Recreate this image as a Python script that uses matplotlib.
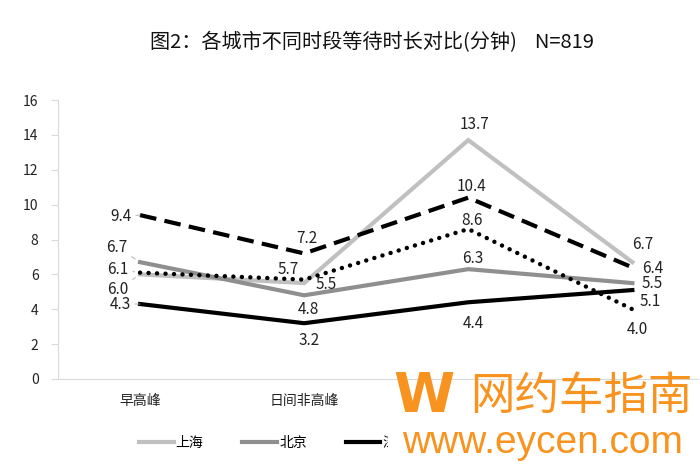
import numpy as np
import matplotlib
matplotlib.use("Agg")
import matplotlib.pyplot as plt
from matplotlib.patches import Rectangle

plt.rcParams['font.family'] = ['Noto Sans CJK SC', 'DejaVu Sans']

periods = ["早高峰", "日间非高峰", "晚高峰", "夜间"]
cities = ["上海", "北京", "深圳", "广州", "杭州"]
shanghai = [6.0, 5.5, 13.7, 6.7]
beijing = [6.7, 4.8, 6.3, 5.5]
shenzhen = [4.3, 3.2, 4.4, 5.1]
guangzhou = [9.4, 7.2, 10.4, 6.4]
hangzhou = [6.1, 5.7, 8.6, 4.0]
series = [shanghai, beijing, shenzhen, guangzhou, hangzhou]

# line styles per city
styles = [
    dict(color="#c0c0c0", lw=3, ls="-"),
    dict(color="#8f8f8f", lw=3, ls="-"),
    dict(color="black", lw=3, ls="-"),
    dict(color="black", lw=3, ls=(0, (4, 2))),
    dict(color="black", lw=3.2, ls=(0, (0.01, 1.9)), dash_capstyle="round"),
]
# label offsets in pixels (dx, dy)
offsets = [
    [(-22, -15), (22, -1), (6, 16), (10, 18)],
    [(-23, 15), (4, -14), (4, 11), (20, 0)],
    [(-20, 0), (5, -17), (5, -21), (18, -11)],
    [(-19, -1), (3, 15), (3, 11), (20, -1)],
    [(-22, 3), (-16, 10), (4, 9), (5, -20)],
]

fig = plt.figure(figsize=(7, 4.66), dpi=100)
ax = fig.add_axes([58 / 700, 87 / 466, 640 / 700, 279 / 466])
x = np.arange(len(periods))

handles = []
for vals, st, offs, name in zip(series, styles, offsets, cities):
    h, = ax.plot(x, vals, color=st["color"], lw=st["lw"], linestyle=st["ls"],
                 dash_capstyle=st.get("dash_capstyle", "butt"),
                 solid_joinstyle="miter", label=name)
    handles.append(h)
    for i, v in enumerate(vals):
        kw = {}
        if i == 0:
            kw["arrowprops"] = dict(arrowstyle="-", color="#a6a6a6", lw=0.6,
                                    shrinkA=1, shrinkB=4)
        ax.annotate(f"{v:.1f}", (x[i], v), xytext=offs[i], textcoords="offset pixels",
                    ha="center", va="center", fontsize=11, color="#222222", **kw)

ax.set_xlim(-0.5, 3.4)
ax.set_ylim(0, 16)
ax.set_yticks(np.arange(0, 17, 2))
ax.set_xticks(x)
ax.set_xticklabels(periods)
for s in ["top", "right"]:
    ax.spines[s].set_visible(False)
for s in ["left", "bottom"]:
    ax.spines[s].set_color("#d9d9d9")
    ax.spines[s].set_linewidth(0.8)
ax.tick_params(axis="y", length=5, color="#d9d9d9", pad=9, labelsize=10, labelcolor="#222222")
ax.tick_params(axis="x", length=0, pad=11, labelsize=10, labelcolor="#222222")

fig.text(372 / 700, 1 - 43 / 466, "图2：各城市不同时段等待时长对比(分钟)    N=819",
         ha="center", va="center", fontsize=14.5, color="#111111")

fig.legend(handles=handles, labels=cities, loc="center", ncol=5,
           bbox_to_anchor=(378 / 700, 1 - 443 / 466), frameon=False,
           handlelength=2.5, handletextpad=0.15, columnspacing=2.8, fontsize=10)

# watermark
orange = "#f7931e"
fig.patches.append(Rectangle((388 / 700, 0), 312 / 700, 86 / 466, transform=fig.transFigure,
                             facecolor="white", edgecolor="none", zorder=6))
fig.text(424 / 700, 1 - 397 / 466, "W", ha="center", va="center", fontsize=40,
         fontweight="bold", color=orange, family="DejaVu Sans", zorder=7)
fig.text(581 / 700, 1 - 396 / 466, "网约车指南", ha="center", va="center", fontsize=32,
         color=orange, zorder=7)
fig.text(402 / 700, 13 / 466, "www.eycen.com", ha="left", va="baseline", fontsize=28,
         color=orange, family="Liberation Sans", zorder=7)

fig.savefig("out.png", dpi=100)
